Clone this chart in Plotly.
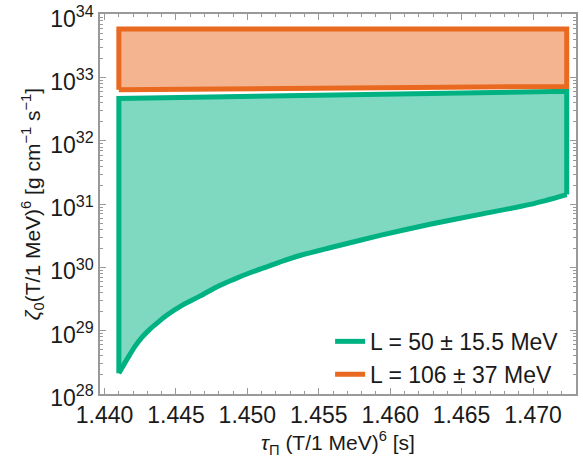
import plotly.graph_objects as go

# Green band (L = 50 ± 15.5 MeV): lower boundary curve
green_low_x = [1.44100, 1.44143, 1.44178, 1.44213, 1.44260, 1.44318, 1.44376, 1.44435,
               1.44551, 1.44668, 1.44785, 1.44901, 1.45018, 1.45135, 1.45251, 1.45368,
               1.45578, 1.45929, 1.46279, 1.46629, 1.46979, 1.47236]
green_low_y = [2.1e28, 3.1e28, 4.2e28, 5.6e28, 7.7e28, 1.05e29, 1.36e29, 1.74e29,
               2.57e29, 3.5e29, 4.9e29, 6.4e29, 8.2e29, 1.02e30, 1.27e30, 1.54e30,
               2.04e30, 3.2e30, 4.8e30, 6.9e30, 9.9e30, 1.42e31]
# Green upper boundary (left, right)
green_up_x = [1.44100, 1.47236]
green_up_y = [4.7e32, 6.1e32]

# Orange band (L = 106 ± 37 MeV)
orange_low_x = [1.44100, 1.47236]
orange_low_y = [6.5e32, 7.3e32]
orange_up_x = [1.44100, 1.47236]
orange_up_y = [5.9e33, 5.9e33]

labels = ["L = 50 ± 15.5 MeV", "L = 106 ± 37 MeV"]
green_line, green_fill = "#00b282", "rgba(0,178,130,0.5)"
orange_line, orange_fill = "#e8691f", "rgba(232,105,31,0.5)"

xticks = [1.440, 1.445, 1.450, 1.455, 1.460, 1.465, 1.470]
yexp = [28, 29, 30, 31, 32, 33, 34]

font = "Liberation Sans"
LW = 5

fig = go.Figure()

# green fill polygon
gx = green_low_x + green_up_x[::-1] + [green_low_x[0]]
gy = green_low_y + green_up_y[::-1] + [green_low_y[0]]
fig.add_trace(go.Scatter(x=gx, y=gy, mode="lines", fill="toself", fillcolor=green_fill,
                         line=dict(width=0, color=green_line), showlegend=False, hoverinfo="skip"))
# green outline: smooth lower curve + straight edges
fig.add_trace(go.Scatter(x=green_low_x, y=green_low_y, mode="lines",
                         line=dict(color=green_line, width=LW, shape="spline", smoothing=0.8),
                         showlegend=False, hoverinfo="skip"))
fig.add_trace(go.Scatter(x=[green_low_x[-1]] + green_up_x[::-1] + [green_low_x[0]],
                         y=[green_low_y[-1]] + green_up_y[::-1] + [green_low_y[0]],
                         mode="lines", line=dict(color=green_line, width=LW),
                         showlegend=False, hoverinfo="skip"))

ox = orange_low_x + orange_up_x[::-1] + [orange_low_x[0]]
oy = orange_low_y + orange_up_y[::-1] + [orange_low_y[0]]
fig.add_trace(go.Scatter(x=ox, y=oy, mode="lines", fill="toself", fillcolor=orange_fill,
                         line=dict(color=orange_line, width=LW), showlegend=False, hoverinfo="skip"))

# legend entries
fig.add_trace(go.Scatter(x=[None], y=[None], mode="lines", name=labels[0],
                         line=dict(color=green_line, width=LW)))
fig.add_trace(go.Scatter(x=[None], y=[None], mode="lines", name=labels[1],
                         line=dict(color=orange_line, width=LW)))

axis_color = "#999999"
fig.update_layout(
    width=583, height=466,
    margin=dict(l=100, r=7, t=14, b=72),
    plot_bgcolor="white", paper_bgcolor="white",
    font=dict(family=font, color="#1a1a1a", size=20),
    showlegend=True,
    legend=dict(x=0.975, y=-0.005, xanchor="right", yanchor="bottom",
                bgcolor="rgba(255,255,255,0)", font=dict(size=23, family=font),
                itemwidth=30, tracegroupgap=0),
    xaxis=dict(range=[1.43968, 1.47301], tickvals=xticks, automargin=False,
               ticktext=[f"{v:.3f}" for v in xticks],
               ticks="inside", ticklen=6, tickcolor=axis_color, tickwidth=1,
               showline=True, linecolor=axis_color, linewidth=1.5, mirror="allticks",
               showgrid=False, zeroline=False,
               tickfont=dict(size=23),
               minor=dict(ticks="inside", ticklen=3, dtick=0.001, tickcolor=axis_color, showgrid=False),
               title=dict(text="<i>τ</i><sub>Π</sub> (T/1 MeV)<sup>6</sup> [s]", font=dict(size=21), standoff=6)),
    yaxis=dict(type="log", range=[27.995, 34.01], tickvals=[10.0 ** e for e in yexp],
               ticktext=[f"10<sup>{e}</sup>" for e in yexp], automargin=False,
               ticks="inside", ticklen=6, tickcolor=axis_color, tickwidth=1,
               showline=True, linecolor=axis_color, linewidth=1.5, mirror="allticks",
               showgrid=False, zeroline=False, ticklabeloverflow="allow",
               ticklabelshift=4,
               tickfont=dict(size=23),
               minor=dict(ticks="inside", ticklen=3, dtick="D1", tickcolor=axis_color, showgrid=False),
               title=dict(text="<i>ζ</i><sub>0</sub>(T/1 MeV)<sup>6</sup> [g cm<sup>−1</sup> s<sup>−1</sup>]",
                          font=dict(size=21), standoff=4)),
)

fig.write_html("out.html", config={"displayModeBar": False},
               post_script="document.body.style.margin='0';document.body.style.overflow='hidden';")
